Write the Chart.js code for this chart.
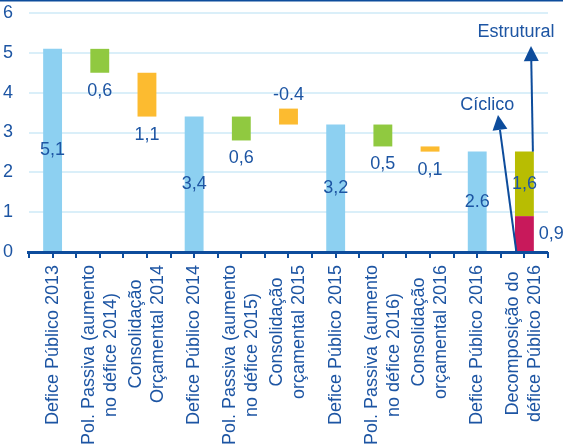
<!DOCTYPE html>
<html>
<head>
<meta charset="utf-8">
<script src="https://cdn.jsdelivr.net/npm/chart.js@4/dist/chart.umd.min.js"></script>
<style>
  html, body { margin: 0; padding: 0; background: #fff; }
  canvas { display: block; }
</style>
</head>
<body>
<canvas id="myChart" width="563" height="448"></canvas>
<script>
// categories (multi-line labels)
const categories = [
    ['Defice Público 2013'],
    ['Pol. Passiva (aumento', 'no défice 2014)'],
    ['Consolidação', 'Orçamental 2014'],
    ['Defice Público 2014'],
    ['Pol. Passiva (aumento', 'no défice 2015)'],
    ['Consolidação', 'orçamental 2015'],
    ['Defice Público 2015'],
    ['Pol. Passiva (aumento', 'no défice 2016)'],
    ['Consolidação', 'orçamental 2016'],
    ['Defice Público 2016'],
    ['Decomposição do', 'défice Público 2016']
];

// series values ([low, high] for floating bars)
const defice = [5.1, null, null, 3.4, null, null, 3.2, null, null, 2.52, null];
const polPassiva = [null, [4.5, 5.1], null, null, [2.8, 3.4], null, null, [2.65, 3.2], null, null, null];
const consolidacao = [null, null, [3.4, 4.5], null, null, [3.2, 3.6], null, null, [2.52, 2.65], null, null];
const ciclico = [null, null, null, null, null, null, null, null, null, null, [0, 0.9]];
const estrutural = [null, null, null, null, null, null, null, null, null, null, [0.9, 2.52]];

// value labels as printed
const deficeLabels = ['5,1', null, null, '3,4', null, null, '3,2', null, null, '2.6', null];
const passivaLabels = [null, '0,6', null, null, '0,6', null, null, '0,5', null, null, null];
const consolidacaoLabels = [null, null, '1,1', null, null, '-0.4', null, null, '0,1', null, null];
const ciclicoLabels = [null, null, null, null, null, null, null, null, null, null, '0,9'];
const estruturalLabels = [null, null, null, null, null, null, null, null, null, null, '1,6'];

// y ticks
const yTicks = [0, 1, 2, 3, 4, 5, 6];

const textBlue = '#1d55a3';
const axisBlue = '#0d4c9c';
const FONT = '"Liberation Sans", Arial, sans-serif';

const bar = (data, color) => ({
    data: data,
    backgroundColor: color,
    grouped: false,
    barPercentage: 0.4,
    categoryPercentage: 1
});

const overlay = {
    id: 'overlay',
    afterDatasetsDraw(chart) {
        const { ctx, chartArea } = chart;
        const x = chart.scales.x;
        const y = chart.scales.y;
        const catW = x.getPixelForValue(1) - x.getPixelForValue(0);
        const y0 = y.getPixelForValue(0);

        ctx.save();
        // top rule
        ctx.fillStyle = axisBlue;
        ctx.fillRect(0, 0, chart.width, 1.5);

        // axis line + ticks at every half category
        ctx.fillRect(chartArea.left - 2, y0 - 1, chartArea.right - chartArea.left + 2, 3);
        for (let i = 0; i <= categories.length * 2; i++) {
            const px = chartArea.left + i * catW / 2;
            ctx.fillRect(Math.round(px) - 1, y0, 2, 6);
        }

        // value labels
        ctx.fillStyle = textBlue;
        ctx.font = '18px ' + FONT;
        ctx.textBaseline = 'middle';
        ctx.textAlign = 'center';
        const meta = i => chart.getDatasetMeta(i).data;
        categories.forEach((c, i) => {
            const xc = x.getPixelForValue(i);
            if (deficeLabels[i]) {
                ctx.fillText(deficeLabels[i], xc, y.getPixelForValue(defice[i] / 2));
            }
            if (passivaLabels[i]) {
                ctx.fillText(passivaLabels[i], xc, y.getPixelForValue(polPassiva[i][0]) + 18);
            }
            if (consolidacaoLabels[i]) {
                const lbl = consolidacaoLabels[i];
                if (lbl[0] === '-') {
                    ctx.fillText(lbl, xc, y.getPixelForValue(consolidacao[i][1]) - 14);
                } else {
                    ctx.fillText(lbl, xc, y.getPixelForValue(consolidacao[i][0]) + 18);
                }
            }
            if (estruturalLabels[i]) {
                const v = estrutural[i];
                ctx.fillText(estruturalLabels[i], xc, y.getPixelForValue((v[0] + v[1]) / 2));
            }
            if (ciclicoLabels[i]) {
                const v = ciclico[i];
                const el = meta(3)[i];
                ctx.textAlign = 'left';
                ctx.fillText(ciclicoLabels[i], el.x + el.width / 2 + 5, y.getPixelForValue((v[0] + v[1]) / 2));
                ctx.textAlign = 'center';
            }
        });

        // x labels, rotated, lines centred, block ending near the axis
        const top = y0 + 13;
        const lh = 22;
        categories.forEach((lines, i) => {
            const xc = x.getPixelForValue(i);
            let w = 0;
            lines.forEach(l => { w = Math.max(w, ctx.measureText(l).width); });
            ctx.save();
            ctx.translate(xc, top);
            ctx.rotate(-Math.PI / 2);
            ctx.textAlign = 'center';
            lines.forEach((l, j) => {
                ctx.fillText(l, -w / 2, (j - (lines.length - 1) / 2) * lh);
            });
            ctx.restore();
        });

        // annotation arrows
        const last = categories.length - 1;
        const xl = x.getPixelForValue(last);
        const arrow = (x1, y1, x2, y2) => {
            const ang = Math.atan2(y2 - y1, x2 - x1);
            const len = 15, hw = 7.5;
            const bx = x2 - len * Math.cos(ang), by = y2 - len * Math.sin(ang);
            ctx.strokeStyle = axisBlue;
            ctx.fillStyle = axisBlue;
            ctx.lineWidth = 2;
            ctx.beginPath();
            ctx.moveTo(x1, y1);
            ctx.lineTo(bx, by);
            ctx.stroke();
            ctx.beginPath();
            ctx.moveTo(x2, y2);
            ctx.lineTo(bx + hw * Math.sin(ang), by - hw * Math.cos(ang));
            ctx.lineTo(bx - hw * Math.sin(ang), by + hw * Math.cos(ang));
            ctx.closePath();
            ctx.fill();
        };
        arrow(xl + 0.18 * catW, y.getPixelForValue(estrutural[last][1]), xl + 0.14 * catW, y.getPixelForValue(5.17));
        arrow(xl - 0.17 * catW, y0, xl - 0.56 * catW, y.getPixelForValue(3.44));

        ctx.fillStyle = textBlue;
        ctx.textAlign = 'center';
        ctx.fillText('Estrutural', xl - 0.18 * catW, y.getPixelForValue(5.53));
        ctx.fillText('Cíclico', xl - 0.79 * catW, y.getPixelForValue(3.69));
        ctx.restore();
    }
};

new Chart(document.getElementById('myChart'), {
    type: 'bar',
    data: {
        labels: categories,
        datasets: [
            bar(defice, '#8dd0f1'),
            bar(polPassiva, '#90c940'),
            bar(consolidacao, '#fcbb30'),
            bar(ciclico, '#c8195b'),
            bar(estrutural, '#b8bd02')
        ]
    },
    options: {
        responsive: false,
        animation: false,
        devicePixelRatio: 1,
        layout: { padding: { top: 13, right: 15, left: 0, bottom: 0 } },
        plugins: { legend: { display: false }, tooltip: { enabled: false } },
        scales: {
            x: {
                grid: { display: false },
                border: { display: false },
                ticks: { display: false },
                afterFit(scale) {
                    scale.height = 196;
                    scale.paddingLeft = 0;
                    scale.paddingRight = 0;
                }
            },
            y: {
                min: 0,
                max: 6,
                afterBuildTicks(scale) { scale.ticks = yTicks.map(v => ({ value: v })); },
                ticks: { color: textBlue, font: { size: 18, family: FONT }, padding: 16 },
                grid: { color: '#daeff9', lineWidth: 2, drawTicks: false },
                border: { display: false },
                afterFit(scale) {
                    scale.width = 29;
                    scale.paddingTop = 0;
                    scale.paddingBottom = 0;
                }
            }
        }
    },
    plugins: [overlay]
});
</script>
</body>
</html>
